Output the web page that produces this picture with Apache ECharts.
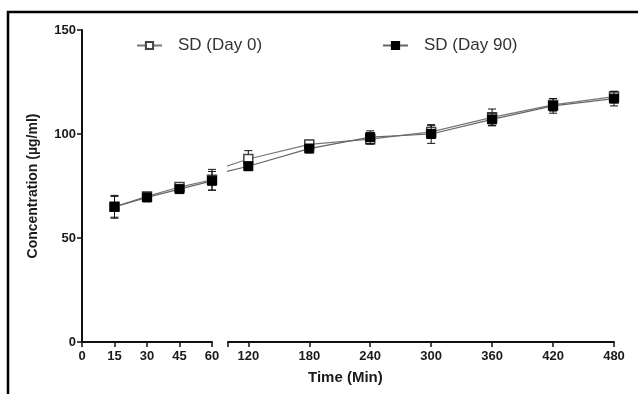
<!DOCTYPE html>
<html>
<head>
<meta charset="utf-8">
<script src="https://cdn.jsdelivr.net/npm/echarts@6/dist/echarts.min.js"></script>
<style>
  html, body { margin: 0; padding: 0; background: #fff; }
  #main { width: 638px; height: 394px; }
</style>
</head>
<body>
<div id="main"></div>
<script>
// sampling times (min) and mean +/- SD
var times = [15, 30, 45, 60, 120, 180, 240, 300, 360, 420, 480];
var day0Mean = [65, 70, 74.5, 78, 88, 95, 97.5, 101, 108, 114, 118];
var day0Sd = [5, 2, 2, 5, 4, 2, 2.5, 3, 4, 3, 2.5];
var day90Mean = [65, 69.5, 73.5, 77.5, 84.5, 93, 98.5, 100, 107, 113.5, 117];
var day90Sd = [5.5, 2, 1.5, 4.5, 2, 2, 3, 4.5, 3, 3.5, 3.5];
var xTicksLeft = [0, 15, 30, 45, 60];
var xTicksRight = [120, 180, 240, 300, 360, 420, 480];

var font = 'Arial, "Liberation Sans", sans-serif';
var labelColor = '#1a1a1a';

// points for each side of the broken axis; the right side keeps the 60 min point
// so the line runs into the break and gets clipped at the grid edge
function pts(mean, from, to) {
  var out = [];
  times.forEach(function (t, i) {
    if (t >= from && t <= to) out.push([t, mean[i]]);
  });
  return out;
}
function errs(mean, sd, from, to) {
  var out = [];
  times.forEach(function (t, i) {
    if (t >= from && t <= to) out.push([t, mean[i], sd[i]]);
  });
  return out;
}

function renderErr(params, api) {
  var x = api.value(0), m = api.value(1), s = api.value(2);
  var hi = api.coord([x, m + s]);
  var lo = api.coord([x, m - s]);
  var w = 4;
  var st = { stroke: '#111', lineWidth: 1 };
  return {
    type: 'group',
    children: [
      { type: 'line', shape: { x1: hi[0], y1: hi[1], x2: lo[0], y2: lo[1] }, style: st },
      { type: 'line', shape: { x1: hi[0] - w, y1: hi[1], x2: hi[0] + w, y2: hi[1] }, style: st },
      { type: 'line', shape: { x1: lo[0] - w, y1: lo[1], x2: lo[0] + w, y2: lo[1] }, style: st }
    ]
  };
}

var axisLineStyle = { color: '#111', width: 2 };
var tickStyle = { color: '#111', width: 1.5 };
var legendText = { fontFamily: font, fontSize: 17, color: '#333', padding: [0, 0, 0, 11] };

var day0Style = {
  name: 'SD (Day 0)',
  type: 'line',
  symbol: 'rect',
  symbolSize: 9,
  lineStyle: { color: '#777', width: 1.2 },
  itemStyle: { color: '#fff', borderColor: '#444', borderWidth: 1.5 },
  z: 3
};
var day90Style = {
  name: 'SD (Day 90)',
  type: 'line',
  symbol: 'rect',
  symbolSize: 9,
  lineStyle: { color: '#666', width: 1.2 },
  itemStyle: { color: '#000', borderColor: '#000', borderWidth: 1 },
  z: 5
};

var chart = echarts.init(document.getElementById('main'));

var option = {
  backgroundColor: '#fff',
  animation: false,
  grid: [
    { left: 82, width: 130, top: 30, bottom: 52 },
    { left: 228, width: 386, top: 30, bottom: 52 }
  ],
  legend: [
    {
      data: ['SD (Day 0)'],
      left: 131, top: 32,
      itemWidth: 25, itemHeight: 9,
      textStyle: legendText,
      selectedMode: false
    },
    {
      data: ['SD (Day 90)'],
      left: 377, top: 32,
      itemWidth: 25, itemHeight: 9,
      textStyle: legendText,
      selectedMode: false
    }
  ],
  xAxis: [
    {
      type: 'value', gridIndex: 0, min: 0, max: 60, interval: 15,
      axisLine: { lineStyle: axisLineStyle },
      axisTick: { length: 5, lineStyle: tickStyle },
      axisLabel: { fontFamily: font, fontSize: 13, fontWeight: 'bold', color: labelColor, margin: 8 },
      splitLine: { show: false }
    },
    {
      type: 'value', gridIndex: 1, min: 100, max: 480,
      axisLine: { lineStyle: axisLineStyle },
      axisTick: { length: 5, lineStyle: tickStyle, customValues: [100].concat(xTicksRight) },
      axisLabel: { fontFamily: font, fontSize: 13, fontWeight: 'bold', color: labelColor, margin: 8, customValues: xTicksRight },
      splitLine: { show: false }
    }
  ],
  yAxis: [
    {
      type: 'value', gridIndex: 0, min: 0, max: 150, interval: 50,
      name: 'Concentration (µg/ml)',
      nameLocation: 'middle',
      nameGap: 42,
      nameTextStyle: { fontFamily: font, fontSize: 14, fontWeight: 'bold', color: labelColor },
      axisLine: { show: true, lineStyle: axisLineStyle },
      axisTick: { show: true, length: 5, lineStyle: tickStyle },
      axisLabel: { fontFamily: font, fontSize: 13, fontWeight: 'bold', color: labelColor, margin: 6 },
      splitLine: { show: false }
    },
    {
      type: 'value', gridIndex: 1, min: 0, max: 150, interval: 50,
      show: false
    }
  ],
  graphic: [
    {
      type: 'polyline',
      shape: { points: [[8, 394], [8, 12], [640, 12]] },
      style: { stroke: '#000', lineWidth: 2.5, fill: null },
      silent: true
    },
    {
      type: 'text',
      left: 308, top: 370,
      style: { text: 'Time (Min)', font: 'bold 15px ' + font, fill: labelColor }
    }
  ],
  series: [
    { type: 'custom', xAxisIndex: 0, yAxisIndex: 0, renderItem: renderErr, data: errs(day0Mean, day0Sd, 0, 60), z: 2 },
    { type: 'custom', xAxisIndex: 1, yAxisIndex: 1, renderItem: renderErr, data: errs(day0Mean, day0Sd, 100, 480), z: 2 },
    Object.assign({}, day0Style, { xAxisIndex: 0, yAxisIndex: 0, data: pts(day0Mean, 0, 60) }),
    Object.assign({}, day0Style, { xAxisIndex: 1, yAxisIndex: 1, data: pts(day0Mean, 60, 480) }),
    { type: 'custom', xAxisIndex: 0, yAxisIndex: 0, renderItem: renderErr, data: errs(day90Mean, day90Sd, 0, 60), z: 4 },
    { type: 'custom', xAxisIndex: 1, yAxisIndex: 1, renderItem: renderErr, data: errs(day90Mean, day90Sd, 100, 480), z: 4 },
    Object.assign({}, day90Style, { xAxisIndex: 0, yAxisIndex: 0, data: pts(day90Mean, 0, 60) }),
    Object.assign({}, day90Style, { xAxisIndex: 1, yAxisIndex: 1, data: pts(day90Mean, 60, 480) })
  ]
};

chart.setOption(option);
</script>
</body>
</html>
